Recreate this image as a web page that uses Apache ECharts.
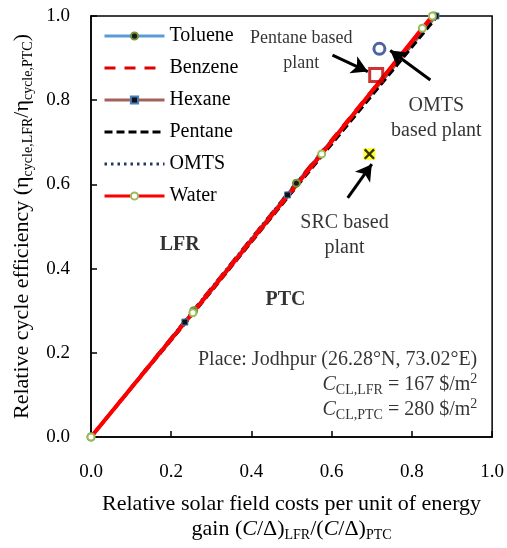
<!DOCTYPE html>
<html><head><meta charset="utf-8">
<script src="https://cdn.jsdelivr.net/npm/echarts@6/dist/echarts.min.js"></script>
<style>html,body{margin:0;padding:0;background:#fff}#c{width:507px;height:548px}</style>
</head><body><div id="c"></div>
<script>
const FONT = '"Liberation Serif", "Times New Roman", serif';

// Series data: [relative solar field cost, relative cycle efficiency]
const toluene = [[0,0],[0.256,0.300],[0.512,0.603],[0.855,1.0]];
const benzene = [[0,0],[0.50,0.590],[0.852,1.0]];
const hexane  = [[0,0],[0.234,0.273],[0.490,0.575],[0.860,1.0]];
const pentane = [[0,0],[0.240,0.276],[0.500,0.580],[0.864,1.0]];
const omts    = [[0,0],[0.500,0.590],[0.856,1.0]];
const water   = [[0,0],[0.254,0.295],[0.575,0.672],[0.826,0.971],[0.851,1.0]];

// Special plant points
const omtsPlant    = [[0.719,0.922]];
const pentanePlant = [[0.711,0.860]];
const srcPlant     = [[0.694,0.672]];

// Arrows [from, to]
const arrows = [
  [[0.602,0.907],[0.690,0.868]],
  [[0.846,0.848],[0.746,0.918]],
  [[0.640,0.568],[0.700,0.648]]
];

const tickLabels = ['0.0','0.2','0.4','0.6','0.8','1.0'];
const legendNames = ['Toluene','Benzene','Hexane','Pentane','OMTS','Water'];

const chart = echarts.init(document.getElementById('c'));
const lbl = {fontFamily: FONT, fontSize: 19, color: '#000'};
const NOSYM = {itemStyle: {color: 'rgba(0,0,0,0)', borderColor: 'rgba(0,0,0,0)', borderWidth: 0}};

function line(name, data, ls, sym) {
  return Object.assign({
    name, type: 'line', data, animation: false,
    lineStyle: ls, symbol: 'none', z: 2
  }, sym || {});
}

const option = {
  backgroundColor: '#fff',
  animation: false,
  grid: {left: 91, right: 14, top: 16, bottom: 111, show: true, borderColor: '#000', borderWidth: 1.5},
  legend: {
    data: legendNames, orient: 'vertical', left: 103, top: 26, padding: 0,
    itemWidth: 60, itemHeight: 9, itemGap: 12,
    lineStyle: {width: 3},
    textStyle: {fontFamily: FONT, fontSize: 20, color: '#000'}
  },
  xAxis: {
    type: 'value', min: 0, max: 1, interval: 0.2,
    axisLine: {lineStyle: {color: '#000', width: 1.5}},
    axisTick: {inside: true, length: 6, lineStyle: {color: '#000', width: 1.5}},
    axisLabel: Object.assign({margin: 26, formatter: v => tickLabels[Math.round(v*5)]}, lbl),
    splitLine: {show: false},
    name: 'Relative solar field costs per unit of energy\n{n|gain (}{i|C}{n|/Δ)}{s|LFR}{n|/(}{i|C}{n|/Δ)}{s|PTC}',
    nameLocation: 'middle', nameGap: 55,
    nameTextStyle: {fontFamily: FONT, fontSize: 22, color: '#000', lineHeight: 25,
      rich: {
        n: {fontFamily: FONT, fontSize: 22, color: '#000', lineHeight: 25},
        i: {fontFamily: FONT, fontSize: 22, color: '#000', lineHeight: 25, fontStyle: 'italic'},
        s: {fontFamily: FONT, fontSize: 14, color: '#000', lineHeight: 14, verticalAlign: 'bottom'}
      }}
  },
  yAxis: {
    type: 'value', min: 0, max: 1, interval: 0.2,
    axisLine: {show: true, lineStyle: {color: '#000', width: 1.5}},
    axisTick: {show: true, inside: true, length: 6, lineStyle: {color: '#000', width: 1.5}},
    axisLabel: Object.assign({margin: 21, formatter: v => tickLabels[Math.round(v*5)]}, lbl),
    splitLine: {show: false},
    name: 'Relative cycle efficiency ({n|η}{s|cycle,LFR}{n|/η}{s|cycle,PTC}{n|)}',
    nameLocation: 'middle', nameGap: 56, nameRotate: 90,
    nameTextStyle: {fontFamily: FONT, fontSize: 22, color: '#000', lineHeight: 25,
      rich: {
        n: {fontFamily: FONT, fontSize: 22, color: '#000', lineHeight: 25},
        s: {fontFamily: FONT, fontSize: 14, color: '#000', lineHeight: 14, verticalAlign: 'bottom'}
      }}
  },
  series: [
    line('Toluene', toluene, {color: '#5b9bd5', width: 3},
      {symbol: 'circle', symbolSize: 7, showSymbol: true, itemStyle: {color: '#1a1a1a', borderColor: '#77933c', borderWidth: 2}}),
    line('Benzene', benzene, {color: '#e00000', width: 3, type: [11, 9]}, NOSYM),
    line('Hexane', hexane, {color: '#a5605c', width: 3},
      {symbol: 'rect', symbolSize: 6, showSymbol: true, itemStyle: {color: '#111', borderColor: '#4a7ebb', borderWidth: 1}}),
    line('Pentane', pentane, {color: '#000', width: 3, type: [8, 4]}, NOSYM),
    line('OMTS', omts, {color: '#1f3864', width: 2.5, type: [2.5, 4]}, NOSYM),
    line('Water', water, {color: '#ff0000', width: 4},
      {symbol: 'circle', symbolSize: 7, showSymbol: true, itemStyle: {color: '#fff', borderColor: '#9bbb59', borderWidth: 2}}),
    {type: 'scatter', name: 'OMTS plant', data: omtsPlant, symbol: 'circle', symbolSize: 11,
      itemStyle: {color: 'rgba(255,255,255,0)', borderColor: '#1f3c88', borderWidth: 3}, z: 5},
    {type: 'scatter', name: 'Pentane plant', data: pentanePlant, symbol: 'rect', symbolSize: 13,
      itemStyle: {color: 'rgba(255,255,255,0)', borderColor: '#c00000', borderWidth: 3}, z: 5},
    {type: 'scatter', name: 'SRC plant bg', data: srcPlant, symbol: 'rect', symbolSize: 12,
      itemStyle: {color: '#ffff00'}, z: 5},
    {type: 'scatter', name: 'SRC plant', data: srcPlant,
      symbol: 'path://M0,1.5 L1.5,0 L5,3.5 L8.5,0 L10,1.5 L6.5,5 L10,8.5 L8.5,10 L5,6.5 L1.5,10 L0,8.5 L3.5,5Z',
      symbolSize: 11, itemStyle: {color: '#000'}, z: 6},
    {type: 'scatter', name: 'annotations', symbolSize: 0, z: 7, silent: true,
      data: [
        {value: [0.221, 0.456], label: {formatter: 'LFR', fontWeight: 'bold', fontSize: 20}},
        {value: [0.485, 0.325], label: {formatter: 'PTC', fontWeight: 'bold', fontSize: 20}},
        {value: [0.524, 0.918], label: {formatter: 'Pentane based\nplant', fontSize: 18}},
        {value: [0.861, 0.757], label: {formatter: 'OMTS\nbased plant'}},
        {value: [0.632, 0.480], label: {formatter: 'SRC based\nplant'}},
        {value: [0.963, 0.124], label: {align: 'right',
          formatter: 'Place: Jodhpur (26.28°N, 73.02°E)\n{i|C}{s|CL,LFR}{n| = 167 $/m}{p|2}\n{i|C}{s|CL,PTC}{n| = 280 $/m}{p|2}'}}
      ],
      label: {show: true, position: 'inside', fontFamily: FONT, fontSize: 20, color: '#000', lineHeight: 25,
        rich: {
          n: {fontFamily: FONT, fontSize: 20, color: '#000', lineHeight: 25},
          i: {fontFamily: FONT, fontSize: 20, color: '#000', lineHeight: 25, fontStyle: 'italic'},
          s: {fontFamily: FONT, fontSize: 14, color: '#000', lineHeight: 14, verticalAlign: 'bottom'},
          p: {fontFamily: FONT, fontSize: 14, color: '#000', lineHeight: 14, verticalAlign: 'top'}
        }},
      markLine: {
        silent: true, symbol: ['none', 'arrow'], symbolSize: [14, 16],
        lineStyle: {color: '#000', width: 3, type: 'solid'},
        label: {show: false},
        data: arrows.map(a => [{coord: a[0]}, {coord: a[1]}])
      }
    }
  ]
};
chart.setOption(option);
</script>
</body></html>
